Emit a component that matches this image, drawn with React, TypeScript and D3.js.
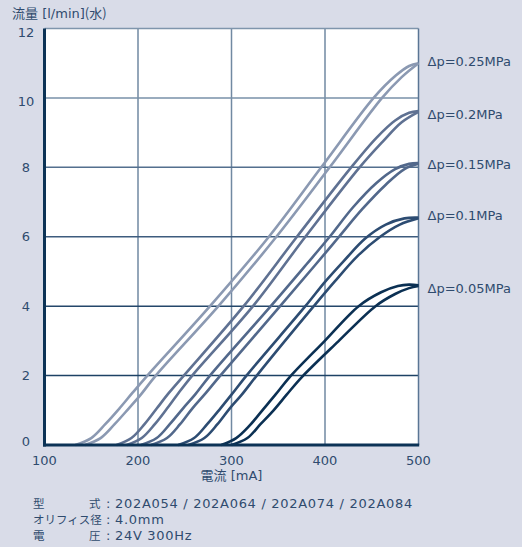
import React from "react";
import * as d3 from "d3";

// pressure drop of each curve pair, highest first
const pressures = ["0.25", "0.2", "0.15", "0.1", "0.05"];
const pairColors = ["#8b99b2", "#5f7192", "#52688b", "#2d4c72", "#0b3053"];

// [current mA, flow l/min] – rising and falling branch of each pair
const p025a: [number, number][] = [[133, 0], [150, 0.2], [165, 0.6], [180, 1.05], [194, 1.5], [210, 2], [277, 4], [340, 6], [396, 8], [452, 10], [476, 10.65], [490, 10.92], [500, 11.0]];
const p025b: [number, number][] = [[143, 0], [160, 0.2], [175, 0.6], [190, 1.05], [203, 1.45], [219, 2], [286, 4], [348, 6], [405, 8], [461, 10], [482, 10.6], [500, 11.0]];
const p020a: [number, number][] = [[177, 0], [193, 0.2], [207, 0.6], [220, 1.05], [233, 1.5], [249, 2], [313, 4], [370, 6], [428, 8], [455, 8.85], [475, 9.35], [490, 9.57], [500, 9.62]];
const p020b: [number, number][] = [[188, 0], [204, 0.2], [218, 0.6], [231, 1.05], [242, 1.45], [258, 2], [323, 4], [379, 6], [437, 8], [462, 8.75], [482, 9.3], [500, 9.6]];
const p015a: [number, number][] = [[203, 0], [220, 0.2], [234, 0.6], [248, 1.05], [261, 1.45], [277, 2], [342, 4], [380, 5.2], [405, 6], [430, 6.85], [455, 7.55], [475, 7.95], [490, 8.1], [500, 8.12]];
const p015b: [number, number][] = [[214, 0], [231, 0.2], [245, 0.6], [258, 1.05], [271, 1.45], [288, 2], [352, 4], [390, 5.2], [415, 6], [440, 6.8], [465, 7.5], [485, 7.95], [500, 8.1]];
const p010a: [number, number][] = [[243, 0], [260, 0.2], [274, 0.6], [288, 1.05], [300, 1.45], [316, 2], [379, 4], [400, 4.7], [420, 5.3], [443, 5.95], [465, 6.35], [485, 6.53], [500, 6.55]];
const p010b: [number, number][] = [[254, 0], [271, 0.2], [285, 0.6], [298, 1.05], [311, 1.45], [327, 2], [388, 4], [410, 4.7], [435, 5.45], [459, 6], [480, 6.35], [500, 6.53]];
const p005a: [number, number][] = [[289, 0], [305, 0.2], [319, 0.55], [333, 1.0], [347, 1.45], [362, 1.95], [399, 2.98], [436, 4], [460, 4.4], [478, 4.58], [490, 4.62], [500, 4.6]];
const p005b: [number, number][] = [[300, 0], [317, 0.2], [331, 0.6], [345, 1.0], [359, 1.45], [375, 1.95], [414, 2.98], [454, 4], [475, 4.35], [490, 4.52], [500, 4.58]];

const pairs = [[p025a, p025b], [p020a, p020b], [p015a, p015b], [p010a, p010b], [p005a, p005b]];

const xTicks = [100, 200, 300, 400, 500];
const yTicks = [0, 2, 4, 6, 8, 10, 12];
const hGridColors = ["#1d4265", "#1d4265", "#24476a", "#3e5c7e", "#536f8e", "#7890a8", "#7f95ac"];

const specLabels = ["型", "オリフィス径", "電"];
const specLabelEnds = ["式", "", "圧"];
const specValues = ["202A054 / 202A064 / 202A074 / 202A084", "4.0mm", "24V 300Hz"];

const textColor = "#2f4b6e";
const latin = "'DejaVu Sans', 'Noto Sans CJK JP', sans-serif";
const cjk = "'Noto Sans CJK JP', sans-serif";

export default function App() {
  const W = 522, H = 547;
  const x = d3.scaleLinear().domain([100, 500]).range([44.5, 418.5]);
  const y = d3.scaleLinear().domain([0, 12]).range([445, 28.5]);
  const line = d3
    .line<[number, number]>()
    .x((d) => x(d[0]))
    .y((d) => y(d[1]))
    .curve(d3.curveCatmullRom.alpha(0.5));

  const labelNudge = [-1.5, 3, 0.8, -2, 3];

  return (
    <div style={{ position: "fixed", left: 0, top: 0 }}>
      <svg width={W} height={H} style={{ display: "block" }}>
        <rect width={W} height={H} fill="#d9dce8" />
        <rect x={x(100)} y={y(12)} width={x(500) - x(100)} height={y(0) - y(12)} fill="#fff" />

        {/* grid */}
        {xTicks.slice(1, -1).map((t) => (
          <line key={"v" + t} x1={x(t)} x2={x(t)} y1={y(12)} y2={y(0)} stroke="#7189a2" strokeWidth={1.5} />
        ))}
        {yTicks.slice(1).map((t, i) => (
          <line key={"h" + t} x1={x(100)} x2={x(500)} y1={y(t)} y2={y(t)} stroke={hGridColors[i + 1]} strokeWidth={1.5} />
        ))}
        <line x1={x(500)} x2={x(500)} y1={y(12)} y2={y(0)} stroke="#5a7594" strokeWidth={1.5} />

        {/* curves */}
        {pairs.map((pr, i) =>
          pr.map((pts, j) => (
            <path key={i + "-" + j} d={line(pts) || ""} fill="none" stroke={pairColors[i]} strokeWidth={2.6} />
          ))
        )}

        {/* axes */}
        <line x1={x(100)} x2={x(100)} y1={y(12)} y2={y(0) + 1.5} stroke="#0c3356" strokeWidth={3} />
        <line x1={x(100) - 1.5} x2={x(500) + 0.7} y1={y(0)} y2={y(0)} stroke="#0c3356" strokeWidth={3.2} />

        {/* tick labels */}
        <g fill={textColor} fontFamily={latin} fontSize={13}>
          {yTicks.map((t) => (
            <text key={"yl" + t} x={26} y={y(t) + (t === 0 ? 1 : t >= 10 ? 8.5 : 4.5)} textAnchor="middle">
              {t}
            </text>
          ))}
          {xTicks.map((t) => (
            <text key={"xl" + t} x={x(t)} y={465} textAnchor="middle">
              {t}
            </text>
          ))}
        </g>

        {/* axis titles */}
        <text x={12} y={18} fill={textColor} fontSize={13} fontFamily={latin}>
          <tspan fontFamily={cjk}>流量</tspan> [l/min]<tspan fontFamily={cjk}>(水)</tspan>
        </text>
        <text x={x(300)} y={480} fill={textColor} fontSize={13} fontFamily={latin} textAnchor="middle">
          <tspan fontFamily={cjk}>電流</tspan> [mA]
        </text>

        {/* pressure labels */}
        {pairs.map((pr, i) => (
          <text
            key={"pl" + i}
            x={x(500) + 9}
            y={y(pr[0][pr[0].length - 1][1]) + labelNudge[i]}
            dy="0.36em"
            fill={textColor}
            fontSize={13}
            fontFamily={latin}
          >
            Δp={pressures[i]}MPa
          </text>
        ))}

        {/* spec block */}
        <g fill={textColor}>
          {specValues.map((v, i) => (
            <g key={"sp" + i}>
              <text x={33} y={508 + i * 16} fontFamily={cjk} fontSize={11.5}>
                {specLabels[i]}
              </text>
              {specLabelEnds[i] && (
                <text x={89} y={508 + i * 16} fontFamily={cjk} fontSize={11.5}>
                  {specLabelEnds[i]}
                </text>
              )}
              <text x={106} y={508 + i * 16} fontFamily={latin} fontSize={13}>
                :
              </text>
              <text x={115} y={508 + i * 16} fontFamily={latin} fontSize={13} letterSpacing={0.7}>
                {v}
              </text>
            </g>
          ))}
        </g>
      </svg>
    </div>
  );
}
